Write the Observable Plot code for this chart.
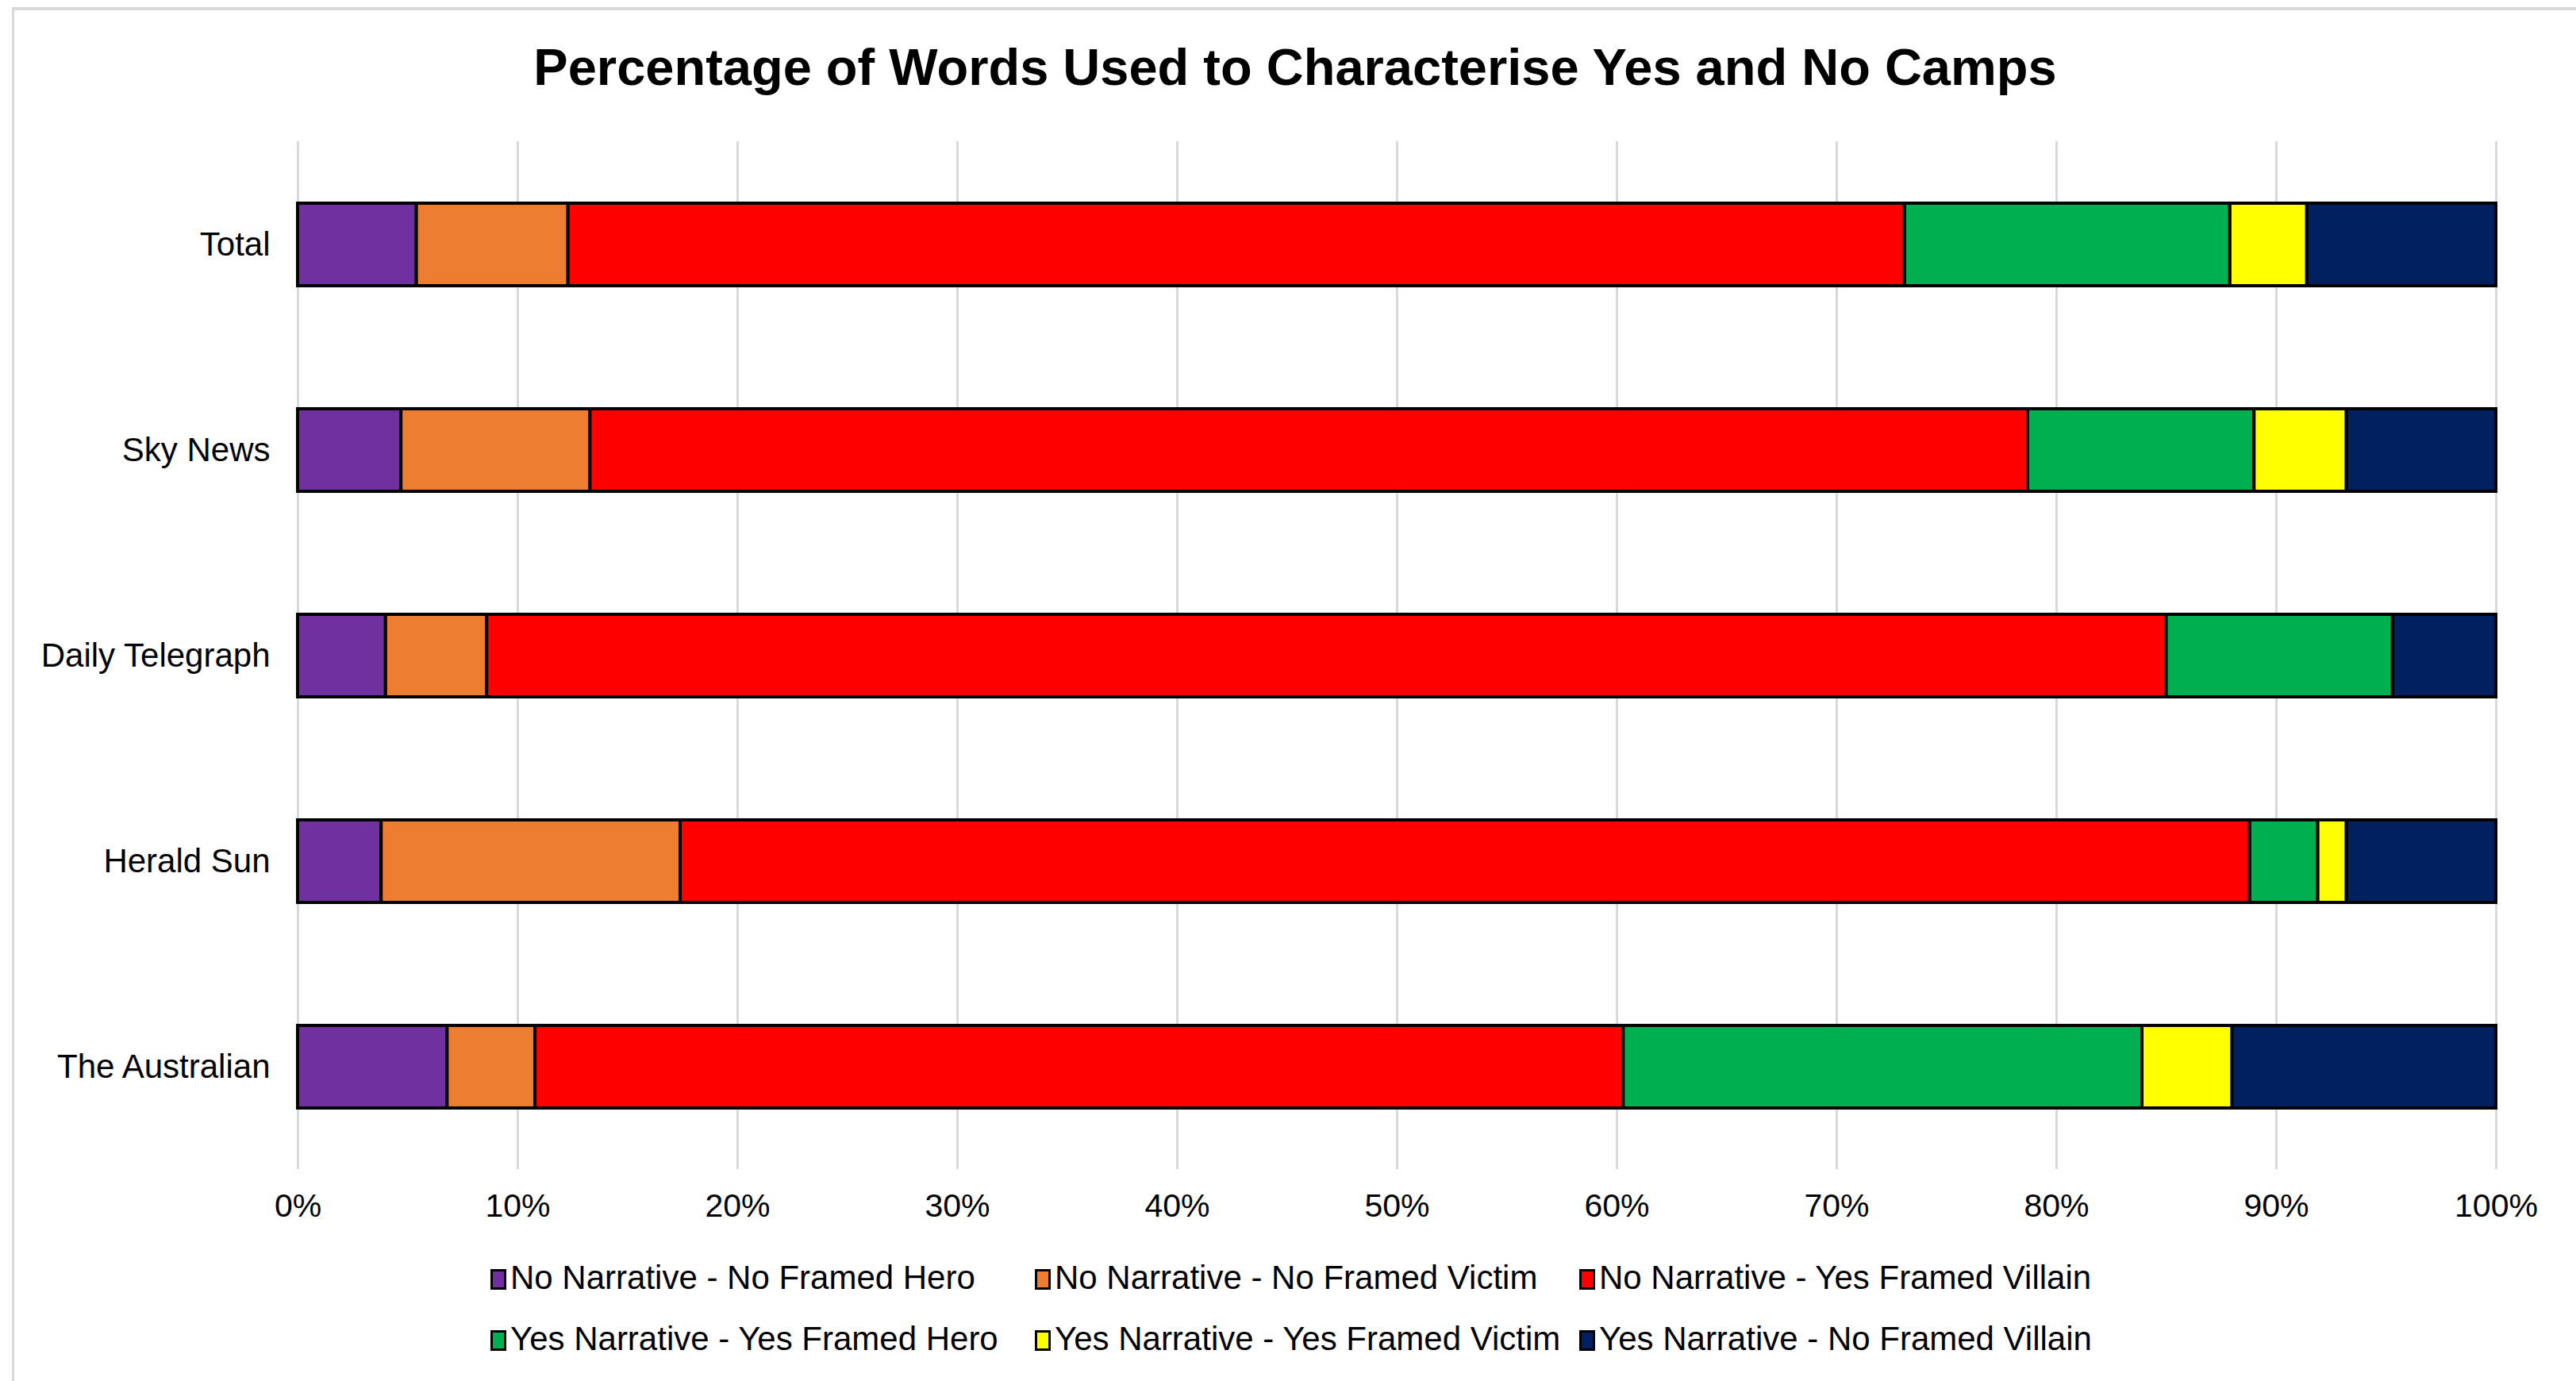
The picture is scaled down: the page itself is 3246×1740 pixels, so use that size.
<!DOCTYPE html>
<html>
<head>
<meta charset="utf-8">
<script src="https://cdn.jsdelivr.net/npm/d3@7"></script>
<script src="https://cdn.jsdelivr.net/npm/@observablehq/plot@0.6"></script>
<style>
  html, body { margin: 0; padding: 0; background: #fff; }
  body { width: 3246px; height: 1740px; position: relative; overflow: hidden; font-family: "Liberation Sans", Arial, sans-serif; }
  #frame { position: absolute; left: 15px; top: 9px; width: 4000px; height: 4000px; border-left: 3px solid #d9d9d9; border-top: 4px solid #d9d9d9; }
  #title { position: absolute; left: 0; top: 52px; width: 3264px; text-align: center; font-weight: bold; font-size: 65px; line-height: 65px; color: #000; }
  #chart { position: absolute; left: 0; top: 0; }
  .lg { position: absolute; font-size: 42px; line-height: 42px; color: #000; white-space: nowrap; }
  .sw { position: absolute; width: 20px; height: 26px; box-sizing: border-box; border: 3px solid #000; }
</style>
</head>
<body>
<div id="frame"></div>
<div id="title">Percentage of Words Used to Characterise Yes and No Camps</div>
<div id="chart"></div>
<div id="legend"></div>
<script>
// Categories (top to bottom)
const outlets = ["Total", "Sky News", "Daily Telegraph", "Herald Sun", "The Australian"];
// Series names
const seriesNames = [
  "No Narrative - No Framed Hero",
  "No Narrative - No Framed Victim",
  "No Narrative - Yes Framed Villain",
  "Yes Narrative - Yes Framed Hero",
  "Yes Narrative - Yes Framed Victim",
  "Yes Narrative - No Framed Villain"
];
const seriesColors = ["#7030A0", "#ED7D31", "#FF0000", "#00B050", "#FFFF00", "#002060"];
// Series values (percent), in order of outlets
const noNoHero      = [5.4, 4.7, 4.0, 3.8, 6.8];
const noNoVictim    = [6.9, 8.6, 4.6, 13.6, 4.0];
const noYesVillain  = [60.8, 65.4, 76.4, 71.4, 49.5];
const yesYesHero    = [14.8, 10.3, 10.3, 3.1, 23.6];
const yesYesVictim  = [3.5, 4.2, 0, 1.3, 4.1];
const yesNoVillain  = [8.6, 6.8, 4.7, 6.8, 12.0];
// Tick labels
const xTicks = [0, 10, 20, 30, 40, 50, 60, 70, 80, 90, 100];

const seriesValues = [noNoHero, noNoVictim, noYesVillain, yesYesHero, yesYesVictim, yesNoVillain];
const data = [];
outlets.forEach((o, i) => {
  seriesNames.forEach((s, j) => {
    const v = seriesValues[j][i];
    if (v > 0) data.push({outlet: o, series: s, value: v});
  });
});

const chart = Plot.plot({
  width: 3246,
  height: 1570,
  marginTop: 178,
  marginBottom: 97,
  marginLeft: 375,
  marginRight: 101,
  style: {fontFamily: "'Liberation Sans', Arial, sans-serif", fontSize: "41px", color: "#000", background: "transparent"},
  x: {domain: [0, 100], ticks: xTicks, tickFormat: d => d + "%"},
  y: {domain: outlets, paddingInner: 0.6, paddingOuter: 0.3},
  color: {domain: seriesNames, range: seriesColors},
  marks: [
    Plot.gridX(xTicks, {stroke: "#d9d9d9", strokeWidth: 3, strokeOpacity: 1}),
    Plot.barX(data, {x: "value", y: "outlet", fill: "series", stroke: "#000", strokeWidth: 4, order: seriesNames}),
    Plot.axisX({ticks: xTicks, tickFormat: d => d + "%", tickSize: 0, tickPadding: 30, fontSize: 41, label: null}),
    Plot.axisY({tickSize: 0, tickPadding: 35, fontSize: 42, label: null})
  ]
});
document.getElementById("chart").appendChild(chart);

// Legend
const legend = document.getElementById("legend");
const colX = [618, 1304, 1990];
const rowY = [1610, 1687];
seriesNames.forEach((s, k) => {
  const cx = colX[k % 3], cy = rowY[Math.floor(k / 3)];
  const sw = document.createElement("div");
  sw.className = "sw";
  sw.style.left = cx + "px";
  sw.style.top = (cy - 11) + "px";
  sw.style.background = seriesColors[k];
  legend.appendChild(sw);
  const t = document.createElement("div");
  t.className = "lg";
  t.style.left = (cx + 25) + "px";
  t.style.top = (cy - 21) + "px";
  t.textContent = s;
  legend.appendChild(t);
});
</script>
</body>
</html>
